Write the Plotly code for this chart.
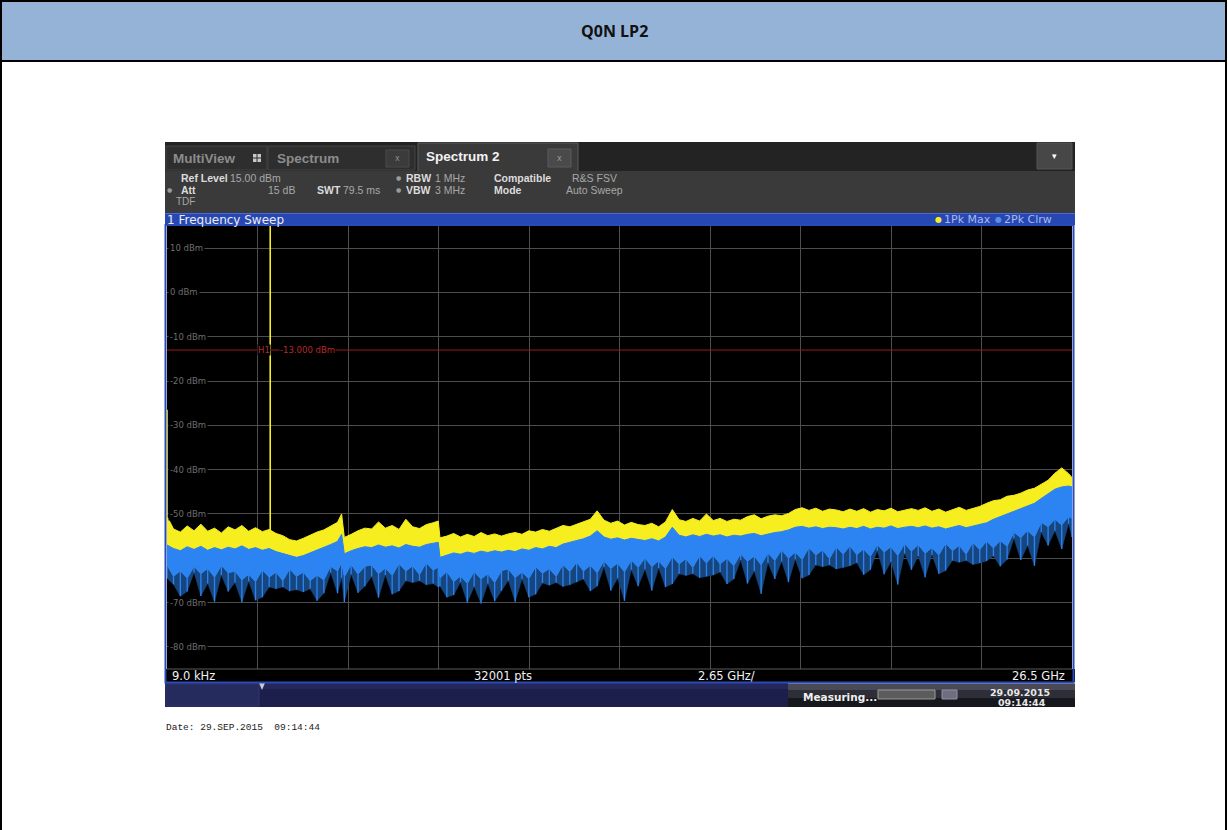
import numpy as np
import plotly.graph_objects as go

W, H = 1228, 830

# ---- sweep data (frequency in GHz, level in dBm) ----
freq_ghz = [
    0.009, 0.2, 0.4, 0.6, 0.8, 1.0, 1.2, 1.4, 1.6, 1.8,
    2.0, 2.2, 2.4, 2.6, 2.8, 3.0, 3.2, 3.4, 3.6, 3.8,
    4.0, 4.2, 4.4, 4.6, 4.8, 5.0, 5.12, 5.2, 5.4, 5.6, 5.8,
    6.0, 6.2, 6.4, 6.6, 6.8, 7.0, 7.2, 7.4, 7.6, 7.8,
    7.95, 8.0, 8.2, 8.4, 8.6, 8.8, 9.0, 9.2, 9.4, 9.6, 9.8,
    10.0, 10.2, 10.4, 10.6, 10.8, 11.0, 11.2, 11.4, 11.6, 11.8,
    12.0, 12.2, 12.4, 12.6, 12.8, 13.0, 13.2, 13.4, 13.6, 13.8,
    14.0, 14.2, 14.4, 14.6, 14.8, 15.0, 15.2, 15.4, 15.6, 15.8,
    16.0, 16.2, 16.4, 16.6, 16.8, 17.0, 17.2, 17.4, 17.6, 17.8,
    18.0, 18.2, 18.4, 18.6, 18.8, 19.0, 19.2, 19.4, 19.6, 19.8,
    20.0, 20.2, 20.4, 20.6, 20.8, 21.0, 21.2, 21.4, 21.6, 21.8,
    22.0, 22.2, 22.4, 22.6, 22.8, 23.0, 23.2, 23.4, 23.6, 23.8,
    24.0, 24.2, 24.4, 24.6, 24.8, 25.0, 25.2, 25.4, 25.6, 25.8,
    26.0, 26.2, 26.4, 26.5,
]

# trace 1: Pk Max (upper envelope)
maxhold_peak_dbm = [
    -50.5, -53.4, -54.1, -52.7, -53.8, -52.3, -53.9, -53.2, -54.3, -52.9,
    -53.6, -52.6, -53.9, -53.1, -54.0, -53.5, -54.4, -54.9, -55.8, -56.1,
    -55.5, -54.8, -54.1, -53.6, -52.8, -51.9, -50.0, -55.3, -54.6, -53.8, -53.2,
    -53.4, -51.8, -53.2, -52.6, -53.5, -51.2, -52.9, -53.3, -52.4, -52.0,
    -51.6, -55.4, -55.0, -54.4, -55.2, -54.6, -55.1, -54.2, -54.9, -54.5, -55.0,
    -54.5, -54.2, -54.6, -53.8, -54.1, -53.5, -53.9, -53.2, -52.6, -52.9,
    -52.3, -51.8, -51.2, -49.3, -51.4, -52.1, -51.6, -52.5, -51.9, -52.4,
    -52.6, -52.1, -52.9, -51.8, -49.0, -51.3, -51.7, -51.0, -51.6, -50.0,
    -51.5, -51.0, -51.7, -51.2, -51.4, -50.6, -50.2, -51.1, -50.5, -50.2,
    -50.4, -49.9, -49.0, -48.6, -49.2, -48.7, -49.4, -48.9, -49.1, -49.5,
    -48.9, -49.4, -48.8, -49.6, -49.0, -49.3, -48.7, -49.5, -49.1, -48.8,
    -49.2, -48.6, -49.4, -48.9, -49.6, -49.0, -48.5, -49.2, -48.8, -48.3,
    -47.6, -47.0, -46.8, -46.0, -45.8, -45.3, -44.6, -44.2, -43.3, -42.4,
    -40.8, -39.6, -40.9, -41.8,
]

# trace 2: Pk Clrw - upper edge
clrw_peak_dbm = [
    -57.0, -57.8, -58.3, -57.4, -58.0, -57.3, -58.2, -57.6, -58.1, -57.5,
    -57.9, -57.2, -58.0, -57.6, -58.2, -57.8, -58.5, -58.9, -59.4, -59.8,
    -59.4, -58.8, -58.1, -57.5, -56.9, -56.2, -54.6, -59.0, -58.3, -57.8, -57.4,
    -57.6, -57.0, -57.5, -57.2, -57.7, -56.9, -57.3, -57.5, -56.9, -56.6,
    -56.4, -59.8, -59.3, -58.8, -59.1, -58.6, -58.9, -58.4, -58.7, -58.3, -58.6,
    -58.2, -58.5, -57.9, -58.2, -57.6, -57.9, -57.3, -57.6, -56.8, -56.4,
    -56.0, -55.6, -55.0, -53.8, -55.2, -55.7, -55.4, -55.9, -55.5, -55.8,
    -56.0, -55.6, -56.1, -55.2, -53.0, -54.8, -55.2, -54.7, -55.1, -54.6,
    -55.0, -54.7, -55.2, -54.8, -55.0, -54.6, -54.4, -54.9, -54.5, -54.2,
    -54.0, -53.6, -53.0, -52.8, -53.2, -52.9, -53.3, -53.0, -53.1, -53.4,
    -53.0, -53.3, -52.8, -53.4, -53.0, -53.2, -52.7, -53.3, -53.0, -52.8,
    -53.1, -52.7, -53.2, -52.9, -53.4, -53.0, -52.6, -53.1, -52.7, -52.3,
    -52.0, -51.2, -50.6, -50.0, -49.4, -48.9, -48.3, -47.6, -46.5, -45.4,
    -44.4, -43.9, -43.7, -43.9,
]

# trace 2: Pk Clrw - lower edge of the dense part
clrw_floor_dbm = [
    -61.5, -64.1, -62.8, -64.5, -61.8, -63.5, -62.3, -64.3, -61.6, -63.3,
    -62.9, -64.9, -63.6, -65.3, -62.6, -64.3, -63.1, -65.1, -62.4, -64.1,
    -63.1, -65.1, -63.8, -64.9, -61.8, -62.9, -61.0, -64.2, -61.4, -63.6, -61.8,
    -61.5, -63.5, -62.2, -63.9, -61.2, -62.9, -61.7, -63.7, -61.0, -62.7,
    -62.0, -64.5, -63.0, -65.3, -64.0, -65.7, -63.0, -64.7, -63.5, -65.5, -62.8,
    -62.4, -64.4, -63.1, -64.6, -61.9, -63.4, -62.3, -64.1, -61.4, -63.0,
    -60.9, -62.9, -61.6, -63.3, -60.6, -62.3, -61.1, -63.1, -60.4, -62.1,
    -59.9, -61.9, -60.6, -62.3, -59.6, -61.3, -60.1, -62.1, -59.4, -61.1,
    -59.3, -61.3, -60.0, -61.7, -59.0, -60.7, -59.5, -61.5, -58.8, -60.5,
    -58.1, -60.0, -58.6, -60.3, -57.6, -59.3, -58.1, -60.1, -57.4, -59.1,
    -57.2, -59.2, -57.9, -59.6, -56.9, -58.6, -57.4, -59.4, -56.7, -58.4,
    -56.9, -58.9, -57.6, -59.3, -56.6, -58.3, -57.1, -59.1, -56.4, -58.1,
    -56.1, -57.7, -56.0, -57.3, -54.1, -55.4, -53.7, -55.2, -51.9, -52.9,
    -51.2, -52.5, -50.6, -51.0,
]

# trace 2: Pk Clrw - deepest noise dips below the dense part
clrw_dip_dbm = [
    -64.5, -65.9, -68.6, -67.5, -63.2, -68.5, -65.7, -69.8, -63.8, -67.5,
    -65.5, -69.9, -65.2, -69.5, -68.8, -66.5, -66.9, -66.5, -67.4, -67.1,
    -67.6, -66.9, -69.6, -67.9, -63.2, -67.9, -64.4, -69.9, -63.6, -67.8, -66.3,
    -64.1, -68.9, -63.8, -68.1, -67.4, -65.1, -65.5, -65.1, -66.0, -65.7,
    -66.5, -66.3, -68.8, -68.3, -65.4, -70.0, -66.4, -70.2, -65.7, -69.7, -67.3,
    -65.0, -69.8, -64.7, -68.8, -68.1, -65.6, -66.1, -65.5, -66.4, -66.0,
    -65.4, -64.7, -67.4, -66.3, -62.0, -67.3, -64.5, -69.6, -62.6, -66.3,
    -62.5, -67.3, -62.2, -66.5, -65.8, -63.5, -63.9, -63.5, -64.4, -64.1,
    -63.8, -63.1, -65.8, -64.7, -60.4, -65.7, -62.9, -68.0, -61.0, -64.7,
    -60.7, -65.4, -60.2, -64.5, -63.8, -61.5, -61.9, -61.5, -62.4, -62.1,
    -61.7, -61.0, -63.7, -62.6, -58.3, -63.6, -60.8, -65.9, -58.9, -62.6,
    -59.5, -64.3, -59.2, -63.5, -62.8, -60.5, -60.9, -60.5, -61.4, -61.1,
    -60.6, -59.5, -61.8, -60.3, -55.5, -60.4, -57.1, -61.7, -54.1, -57.1,
    -53.8, -57.9, -52.2, -55.2,
]

# narrow spurs captured by the max-hold trace
spur_freq_ghz = [0.009, 3.03]
spur_level_dbm = [-26.5, 16.0]

# display line, sweep settings and level ticks
h1_level_dbm = -13.0
ref_level_dbm = 15.0
bottom_level_dbm = -85.0
start_ghz, stop_ghz = 0.009, 26.5
span_per_div_ghz = 2.65
level_tick_dbm = [10, 0, -10, -20, -30, -40, -50, -70, -80]
level_tick_text = ["10 dBm", "0 dBm", "-10 dBm", "-20 dBm", "-30 dBm",
                   "-40 dBm", "-50 dBm", "-70 dBm", "-80 dBm"]

n = len(freq_ghz)
for arr in (maxhold_peak_dbm, clrw_peak_dbm, clrw_floor_dbm, clrw_dip_dbm):
    if len(arr) != n:
        raise ValueError("trace length mismatch: %d vs %d" % (len(arr), n))

YELLOW = "#f6ee1e"
BLUE = "#2b84f2"
BLUE_DIM = "#17467f"

# ---- pixel helpers for the page furniture ----
def px(x):
    return x / W


def py(y):
    return 1 - y / H


shapes = []
annotations = []


def rect(x0, y0, x1, y1, fill, line_color=None, line_width=0):
    shapes.append(dict(type="rect", xref="paper", yref="paper",
                       x0=px(x0), x1=px(x1), y0=py(y1), y1=py(y0),
                       fillcolor=fill, layer="above",
                       line=dict(color=line_color or fill, width=line_width)))


def line(x0, y0, x1, y1, color, width=1):
    shapes.append(dict(type="line", xref="paper", yref="paper",
                       x0=px(x0), x1=px(x1), y0=py(y0), y1=py(y1),
                       layer="above", line=dict(color=color, width=width)))


def text(x, y, s, size, color, anchor="left", bold=False,
         family="DejaVu Sans", bg=None):
    annotations.append(dict(xref="paper", yref="paper", x=px(x), y=py(y),
                            text="<b>%s</b>" % s if bold else s,
                            showarrow=False, xanchor=anchor, yanchor="middle",
                            font=dict(size=size, color=color, family=family),
                            bgcolor=bg, borderpad=0))


# ---- report frame with title band ----
rect(1, 1, 1226, 61, "#95b3d7", "#000000", 2)
line(1, 61, 1, 830, "#000000", 2)
line(1226, 61, 1226, 830, "#000000", 2)
text(614, 31, "Q0N LP2", 16, "#111111", anchor="center", bold=True,
     family="Open Sans")

# ---- analyzer window: tab bar ----
TAB = "Liberation Sans"
rect(165, 142, 1075, 171, "#232323")
rect(166, 146, 267, 170, "#2e2e2e", "#444444", 1)
text(172, 158, "MultiView", 13.5, "#8c8c8c", bold=True, family=TAB)
for gx, gy in [(253, 154), (257.5, 154), (253, 158.5), (257.5, 158.5)]:
    rect(gx, gy, gx + 3.5, gy + 3.5, "#c8c8c8")
rect(268, 146, 415, 170, "#2e2e2e", "#444444", 1)
text(276, 158, "Spectrum", 13.5, "#8c8c8c", bold=True, family=TAB)
rect(386, 150, 409, 167, "#3b3b3b", "#4a4a4a", 1)
text(397.5, 158.5, "x", 8, "#8a8a8a", anchor="center")
rect(418, 143, 578, 172, "#3a3a3a", "#5a5a5a", 1)
text(425, 157, "Spectrum 2", 13.5, "#f2f2f2", bold=True, family=TAB)
rect(548, 149, 571, 167, "#4a4a4a", "#5a5a5a", 1)
text(559.5, 158, "x", 8, "#9a9a9a", anchor="center")
rect(1037, 143, 1072, 169, "#474747", "#555555", 1)
text(1054.5, 156, "▾", 9, "#ffffff", anchor="center")

# ---- settings panel ----
rect(165, 171, 1075, 213, "#3a3a3a")
rect(419, 170, 577, 173, "#3a3a3a")
LBL, VAL, DOT = "#dcdcdc", "#a8a8a8", "#9a9a9a"
R1, R2, R3 = 178, 190, 201
text(180, R1, "Ref Level", 10.5, LBL, bold=True, family=TAB)
text(229, R1, "15.00 dBm", 10.5, VAL, family=TAB)
text(395, R1, "●", 6, DOT)
text(405, R1, "RBW", 10.5, LBL, bold=True, family=TAB)
text(434, R1, "1 MHz", 10.5, VAL, family=TAB)
text(493, R1, "Compatible", 10.5, LBL, bold=True, family=TAB)
text(571, R1, "R&amp;S FSV", 10.5, VAL, family=TAB)
text(166, R2, "●", 6, DOT)
text(180, R2, "Att", 10.5, LBL, bold=True, family=TAB)
text(296, R2, "15 dB", 10.5, VAL, anchor="right", family=TAB)
text(316, R2, "SWT", 10.5, LBL, bold=True, family=TAB)
text(342, R2, "79.5 ms", 10.5, VAL, family=TAB)
text(395, R2, "●", 6, DOT)
text(405, R2, "VBW", 10.5, LBL, bold=True, family=TAB)
text(434, R2, "3 MHz", 10.5, VAL, family=TAB)
text(493, R2, "Mode", 10.5, LBL, bold=True, family=TAB)
text(565, R2, "Auto Sweep", 10.5, VAL, family=TAB)
text(175, R3, "TDF", 10, VAL, family=TAB)

# ---- window title bar ----
rect(165, 213, 1075, 225, "#2747b4")
line(165, 213.5, 1075, 213.5, "#4a6ad8", 1)
text(166, 219.5, "1 Frequency Sweep", 12, "#ececec")
text(934, 219.5, "●", 8, YELLOW)
text(943, 219.5, "1Pk Max", 11, "#a9bbe8")
text(994, 219.5, "●", 8, "#5b8fe0")
text(1003, 219.5, "2Pk Clrw", 11, "#a9bbe8")

# ---- bottom scale row and status bar ----
rect(165, 669, 1075, 682, "#000000")
line(167, 669, 1072, 669, "#5a5a5a", 1)
text(171, 675.5, "9.0 kHz", 11.5, "#f0f0f0")
text(473, 675.5, "32001 pts", 11.5, "#f0f0f0")
text(697, 675.5, "2.65 GHz/", 11.5, "#f0f0f0")
text(1066, 675.5, "26.5 GHz", 11.5, "#f0f0f0", anchor="right")

rect(165, 683, 1075, 707, "#1c1f4c")
rect(165, 683, 1075, 689, "#23275a")
rect(166, 684, 259, 706, "#262b5e", "#30356a", 1)
shapes.append(dict(type="path", xref="paper", yref="paper", layer="above",
                   path="M %f %f L %f %f L %f %f Z" % (px(259), py(683), px(265), py(683), px(262), py(690)),
                   fillcolor="#c8c8d8", line=dict(width=0)))
rect(788, 683, 1075, 690, "#4a4a56")
rect(788, 690, 1075, 698, "#2e2e38")
rect(788, 698, 1075, 707, "#17171e")
line(788, 683.5, 1075, 683.5, "#9a9aa6", 1)
text(802, 697, "Measuring...", 10.5, "#f0f0f0", bold=True)
rect(878, 690, 935, 699, "#5c5c5c", "#9a9a9a", 1)
rect(942, 690, 957, 699, "#6e6e80", "#9090a0", 1)
text(1020, 692, "29.09.2015", 9.5, "#e8e8e8", anchor="center", bold=True)
text(1022, 702, "09:14:44", 9.5, "#e8e8e8", anchor="center", bold=True)

# blue outline of the active diagram
shapes.append(dict(type="rect", xref="paper", yref="paper", layer="above",
                   x0=px(165.5), x1=px(1073.5), y0=py(682.5), y1=py(225),
                   line=dict(color="#2a4ab8", width=2)))

# ---- printout footer ----
text(165, 727, "Date: 29.SEP.2015  09:14:44", 9.5, "#222222",
     family="Liberation Mono")

# ---- traces ----
fig = go.Figure()
poly_x = freq_ghz + freq_ghz[::-1]

# max-hold band, reaching down behind the clear/write trace
fig.add_trace(go.Scatter(
    x=poly_x, y=maxhold_peak_dbm + clrw_floor_dbm[::-1],
    fill="toself", fillcolor=YELLOW, mode="lines",
    line=dict(color=YELLOW, width=1), hoverinfo="skip", showlegend=False))

# sparse noise region between floor and deepest dips
fig.add_trace(go.Scatter(
    x=poly_x, y=clrw_floor_dbm + clrw_dip_dbm[::-1],
    fill="toself", fillcolor=BLUE_DIM, mode="lines",
    line=dict(color=BLUE_DIM, width=0.5), hoverinfo="skip", showlegend=False))

# individual noise dips as thin streaks
dip_x, dip_y = [], []
for f, top, bot in zip(freq_ghz, clrw_floor_dbm, clrw_dip_dbm):
    dip_x += [f, f, None]
    dip_y += [top, bot, None]
fig.add_trace(go.Scatter(x=dip_x, y=dip_y, mode="lines",
                         line=dict(color=BLUE, width=1.3),
                         hoverinfo="skip", showlegend=False))

# dense clear/write band
fig.add_trace(go.Scatter(
    x=poly_x, y=clrw_peak_dbm + clrw_floor_dbm[::-1],
    fill="toself", fillcolor=BLUE, mode="lines",
    line=dict(color=BLUE, width=1), hoverinfo="skip", showlegend=False))

spur_x, spur_y = [], []
for f, lvl in zip(spur_freq_ghz, spur_level_dbm):
    base = float(np.interp(f, freq_ghz, maxhold_peak_dbm))
    spur_x += [f, f, None]
    spur_y += [base, lvl, None]
fig.add_trace(go.Scatter(x=spur_x, y=spur_y, mode="lines",
                         line=dict(color=YELLOW, width=1.6),
                         hoverinfo="skip", showlegend=False))

# display line H1
shapes.append(dict(type="line", xref="x domain", yref="y", x0=0, x1=1,
                   y0=h1_level_dbm, y1=h1_level_dbm, layer="above",
                   line=dict(color="#9a1c1c", width=1)))
annotations.append(dict(xref="paper", yref="y", x=px(257), y=h1_level_dbm,
                        text="H1", showarrow=False, xanchor="left",
                        yanchor="middle", bgcolor="#000000", borderpad=0,
                        font=dict(size=8.5, color="#b42a2a", family="DejaVu Sans")))
annotations.append(dict(xref="paper", yref="y", x=px(279), y=h1_level_dbm,
                        text="%.3f dBm" % h1_level_dbm, showarrow=False,
                        xanchor="left", yanchor="middle", bgcolor="#000000",
                        borderpad=0,
                        font=dict(size=8.5, color="#b42a2a", family="DejaVu Sans")))

# level labels on the left of the grid
for lvl, lab in zip(level_tick_dbm, level_tick_text):
    annotations.append(dict(xref="paper", yref="y", x=px(168), y=lvl,
                            text=lab, showarrow=False, xanchor="left",
                            yanchor="middle", bgcolor="#000000", borderpad=1,
                            font=dict(size=8.5, color="#6e6e6e",
                                      family="DejaVu Sans")))

fig.update_layout(
    width=W, height=H, autosize=False,
    margin=dict(l=0, r=0, t=0, b=0, pad=0),
    paper_bgcolor="#ffffff", plot_bgcolor="#000000",
    showlegend=False, hovermode=False,
    shapes=shapes, annotations=annotations,
    xaxis=dict(domain=[px(167), px(1072)], range=[start_ghz, stop_ghz],
               tick0=start_ghz, dtick=span_per_div_ghz,
               showgrid=True, gridcolor="#4e4e4e", gridwidth=1,
               showticklabels=False, ticks="", zeroline=False,
               showline=False, fixedrange=True),
    yaxis=dict(domain=[py(669), py(226)],
               range=[bottom_level_dbm, ref_level_dbm],
               tick0=0, dtick=10, showgrid=True, gridcolor="#4e4e4e",
               gridwidth=1, showticklabels=False, ticks="", zeroline=False,
               showline=False, fixedrange=True),
)

fig.write_html("out.html", config={"displayModeBar": False})
